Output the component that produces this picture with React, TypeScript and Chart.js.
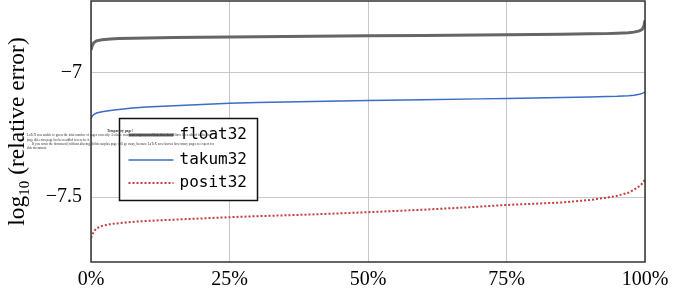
import { useEffect, useRef } from "react";
import { Chart, registerables } from "chart.js";
Chart.register(...registerables);

const pct = [0, 0.2, 0.5, 1, 2, 3.5, 5, 7.5, 10, 15, 20, 25, 30, 40, 50, 60, 70, 75, 80, 85, 90, 93, 95, 97, 98, 99, 99.5, 99.8, 100];
const float32 = [-6.909, -6.892, -6.88, -6.872, -6.868, -6.865, -6.863, -6.862, -6.861, -6.859, -6.858, -6.857, -6.856, -6.854, -6.852, -6.851, -6.849, -6.848, -6.847, -6.846, -6.844, -6.843, -6.841, -6.839, -6.837, -6.832, -6.826, -6.813, -6.789];
const takum32 = [-7.183, -7.175, -7.168, -7.162, -7.157, -7.152, -7.148, -7.142, -7.138, -7.133, -7.128, -7.123, -7.12, -7.116, -7.112, -7.109, -7.105, -7.103, -7.101, -7.099, -7.097, -7.095, -7.094, -7.092, -7.09, -7.086, -7.083, -7.08, -7.078];
const posit32 = [-7.663, -7.652, -7.638, -7.625, -7.615, -7.608, -7.604, -7.599, -7.595, -7.59, -7.585, -7.58, -7.576, -7.569, -7.56, -7.55, -7.538, -7.531, -7.526, -7.521, -7.511, -7.502, -7.494, -7.482, -7.47, -7.455, -7.445, -7.436, -7.426];
const seriesLabels = ["float32", "takum32", "posit32"];
const xTicks = [0, 25, 50, 75, 100];
const yTicks = [-7, -7.5];
const yTitleMain = "log";
const yTitleSub = "10";
const yTitleRest = " (relative error)";
const tempTitle = "Temporary page!";
const tempLines = [
  "LaTeX was unable to guess the total number of pages correctly. As there was some unprocessed data that should have been added to the final",
  "page this extra page has been added to receive it.",
  "If you rerun the document (without altering it) this surplus page will go away, because LaTeX now knows how many pages to expect for",
  "this document.",
];

const SERIF = "'Liberation Serif', serif";

const decorPlugin = {
  id: "decor",
  afterDatasetsDraw(chart: any) {
    const { ctx, chartArea: a } = chart;
    ctx.save();
    // frame
    ctx.strokeStyle = "#333";
    ctx.lineWidth = 1.5;
    ctx.strokeRect(a.left, a.top, a.right - a.left, a.bottom - a.top);

    // legend
    const lx = a.left + 28.5, ly = a.top + 117.5, lw = 138, lh = 82;
    ctx.fillStyle = "#fff";
    ctx.fillRect(lx, ly, lw, lh);
    ctx.strokeStyle = "#111";
    ctx.lineWidth = 1.5;
    ctx.strokeRect(lx, ly, lw, lh);
    const rows = [16.5, 41.5, 64.5];
    chart.data.datasets.forEach((ds: any, i: number) => {
      const y = ly + rows[i];
      ctx.beginPath();
      ctx.strokeStyle = ds.borderColor;
      ctx.lineWidth = ds.borderWidth;
      ctx.setLineDash(ds.borderDash || []);
      ctx.moveTo(lx + 9, y);
      ctx.lineTo(lx + 54, y);
      ctx.stroke();
      ctx.setLineDash([]);
      ctx.fillStyle = "#000";
      ctx.font = "16px 'DejaVu Sans Mono', monospace";
      ctx.textBaseline = "middle";
      ctx.textAlign = "left";
      ctx.fillText(ds.label, lx + 60, y);
    });

    // tiny temporary page text
    ctx.fillStyle = "#333";
    ctx.textBaseline = "middle";
    ctx.font = "bold 3.5px " + SERIF;
    ctx.fillText(tempTitle, 107, 131.5, 27);
    ctx.font = "3.5px " + SERIF;
    const ys = [135.5, 140, 144.5, 148.5];
    const xs = [27, 27, 32, 27];
    const ws = [185, 63, 182, 20];
    tempLines.forEach((t, i) => ctx.fillText(t, xs[i], ys[i], ws[i]));
    ctx.restore();
  },
  afterDraw(chart: any) {
    const { ctx, chartArea: a } = chart;
    ctx.save();
    const cy = (a.top + a.bottom) / 2;
    ctx.translate(24, cy);
    ctx.rotate(-Math.PI / 2);
    ctx.fillStyle = "#000";
    ctx.textBaseline = "alphabetic";
    ctx.textAlign = "left";
    const fMain = "23.5px " + SERIF;
    const fSub = "15px " + SERIF;
    ctx.font = fMain;
    const w1 = ctx.measureText(yTitleMain).width;
    const w3 = ctx.measureText(yTitleRest).width;
    ctx.font = fSub;
    const w2 = ctx.measureText(yTitleSub).width;
    let x = -(w1 + w2 + w3) / 2;
    ctx.font = fMain;
    ctx.fillText(yTitleMain, x, 0);
    x += w1;
    ctx.font = fSub;
    ctx.fillText(yTitleSub, x, 5);
    x += w2;
    ctx.font = fMain;
    ctx.fillText(yTitleRest, x, 0);
    ctx.restore();
  },
};

export default function App() {
  const ref = useRef<HTMLCanvasElement | null>(null);
  useEffect(() => {
    if (!ref.current) return;
    const mk = (vals: number[]) => pct.map((p, i) => ({ x: p, y: vals[i] }));
    const chart = new Chart(ref.current, {
      type: "line",
      data: {
        datasets: [
          { label: seriesLabels[0], data: mk(float32), borderColor: "#666666", borderWidth: 3, pointRadius: 0, tension: 0 },
          { label: seriesLabels[1], data: mk(takum32), borderColor: "#3a6cc8", borderWidth: 1.5, pointRadius: 0, tension: 0 },
          { label: seriesLabels[2], data: mk(posit32), borderColor: "#c43c3c", borderWidth: 2, borderDash: [2, 2], pointRadius: 0, tension: 0 },
        ],
      } as any,
      options: {
        animation: false,
        responsive: false,
        devicePixelRatio: 1,
        layout: { padding: { left: 0, right: 33, top: 1, bottom: 0 } },
        plugins: { legend: { display: false }, tooltip: { enabled: false } },
        scales: {
          x: {
            type: "linear",
            min: 0,
            max: 100,
            afterBuildTicks: (s: any) => { s.ticks = xTicks.map((v) => ({ value: v })); },
            afterFit: (s: any) => { s.height = 31; },
            grid: { color: "#c8c8c8", lineWidth: 1, drawTicks: false },
            border: { display: false },
            ticks: { color: "#000", padding: 6, maxRotation: 0, font: { family: SERIF, size: 20 }, callback: (v: any) => v + "%" },
          },
          y: {
            type: "linear",
            min: -7.76,
            max: -6.712,
            afterBuildTicks: (s: any) => { s.ticks = yTicks.map((v) => ({ value: v })); },
            afterFit: (s: any) => { s.width = 91; s.paddingTop = 0; s.paddingBottom = 0; },
            grid: { color: "#c8c8c8", lineWidth: 1, drawTicks: false },
            border: { display: false },
            ticks: { color: "#000", padding: 9, font: { family: SERIF, size: 20 }, callback: (v: any) => String(v).replace("-", "\u2212") },
          },
        },
      },
      plugins: [decorPlugin],
    });
    return () => chart.destroy();
  }, []);
  return (
    <div style={{ position: "fixed", left: 0, top: 0, width: 678, height: 293, background: "#fff" }}>
      <canvas ref={ref} width={678} height={293} style={{ width: 678, height: 293 }} />
    </div>
  );
}
